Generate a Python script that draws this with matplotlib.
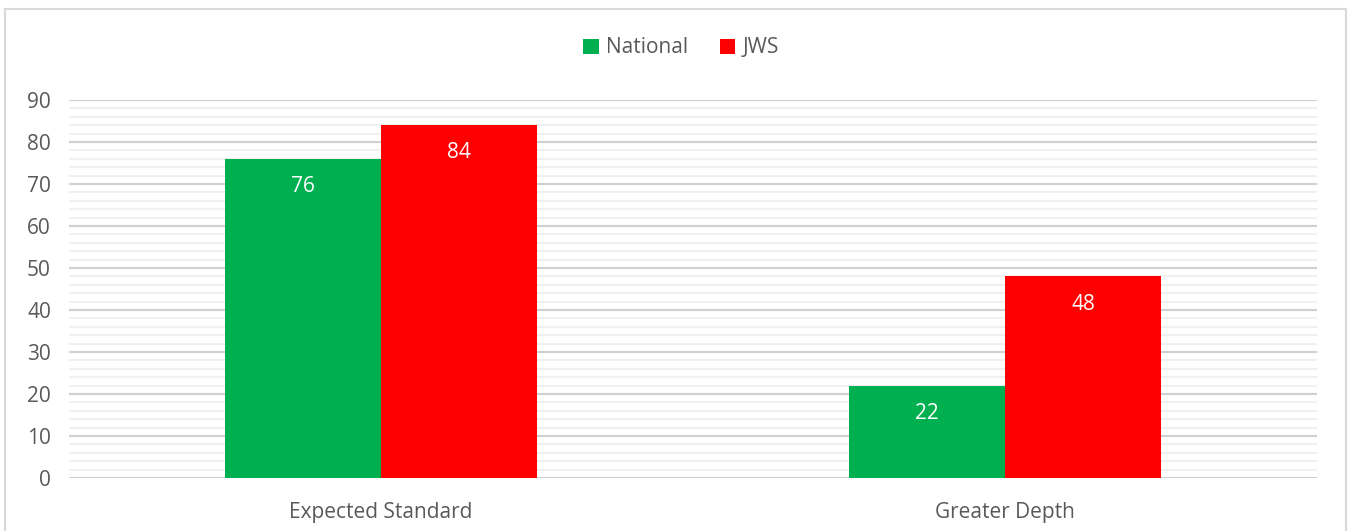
import matplotlib.pyplot as plt
import numpy as np
from matplotlib.patches import Rectangle

categories = ['Expected Standard', 'Greater Depth']
national = [76, 22]
jws = [84, 48]

plt.rcParams['font.family'] = ['Open Sans', 'DejaVu Sans']

fig = plt.figure(figsize=(13.49, 5.31), dpi=100)
ax = fig.add_axes([69 / 1349, 1 - 478 / 531, 1248 / 1349, 378 / 531])

x = np.arange(len(categories))
w = 0.25
b1 = ax.bar(x - w / 2, national, w, color='#00b050', label='National', zorder=3)
b2 = ax.bar(x + w / 2, jws, w, color='#ff0000', label='JWS', zorder=3)

for bars in (b1, b2):
    for r in bars:
        ax.annotate(f'{r.get_height():g}', (r.get_x() + r.get_width() / 2, r.get_height()),
                    xytext=(0, -20), textcoords='offset points', ha='center', va='center',
                    color='white', fontsize=15, zorder=4)

ax.set_xlim(-0.5, 1.5)
ax.set_ylim(0, 90)
ax.set_yticks(range(0, 91, 10))
ax.set_yticks(range(0, 91, 2), minor=True)
ax.grid(axis='y', which='major', color='#d0d0d0', lw=1.5, zorder=0)
ax.grid(axis='y', which='minor', color='#f0f0f0', lw=1.5, zorder=0)
ax.set_xticks(x)
ax.set_xticklabels(categories)
ax.tick_params(axis='both', which='both', length=0, colors='#595959', labelsize=15)
ax.tick_params(axis='x', pad=17)
ax.tick_params(axis='y', pad=13)
for s in ax.spines.values():
    s.set_visible(False)

ax.legend(loc='center', bbox_to_anchor=(0.5 - 12 / 1248, 1 + 52 / 378),
          ncol=2, frameon=False, fontsize=15, labelcolor='#595959',
          handlelength=0.75, handleheight=0.75, handletextpad=0.35, columnspacing=1.5)

fig.patches.append(Rectangle((5 / 1349, -0.05), 1341 / 1349, 1.05 - 9 / 531, transform=fig.transFigure,
                             fill=False, edgecolor='#d9d9d9', lw=1.5))

fig.savefig('out.png', dpi=100)
